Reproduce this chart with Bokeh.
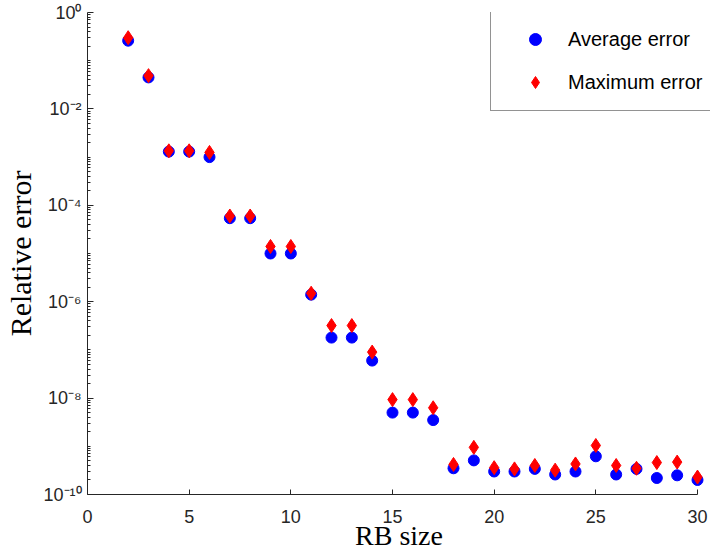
from bokeh.plotting import figure
from bokeh.models import Range1d, FixedTicker, Legend, LegendItem, ColumnDataSource
from bokeh.embed import file_html
from bokeh.resources import INLINE

# ---- data ----
rb_size = list(range(2, 31))
avg_error = [2.6e-1, 4.5e-2, 1.3e-3, 1.3e-3, 1.0e-3, 5.4e-5, 5.4e-5, 1.0e-5, 1.0e-5,
             1.4e-6, 1.8e-7, 1.8e-7, 6.0e-8, 5.0e-9, 5.0e-9, 3.5e-9, 3.5e-10, 5.1e-10,
             3.0e-10, 3.0e-10, 3.4e-10, 2.6e-10, 3.0e-10, 6.2e-10, 2.6e-10, 3.4e-10,
             2.2e-10, 2.5e-10, 2.0e-10]
max_error = [3.0e-1, 4.9e-2, 1.35e-3, 1.35e-3, 1.25e-3, 6.0e-5, 6.0e-5, 1.4e-5, 1.4e-5,
             1.5e-6, 3.2e-7, 3.2e-7, 9.0e-8, 9.3e-9, 9.3e-9, 6.3e-9, 4.2e-10, 9.5e-10,
             3.6e-10, 3.4e-10, 4.0e-10, 3.2e-10, 4.3e-10, 1.04e-9, 4.0e-10, 3.5e-10,
             4.6e-10, 4.7e-10, 2.3e-10]
x_ticks = [0, 5, 10, 15, 20, 25, 30]
y_ticks = [1e-10, 1e-8, 1e-6, 1e-4, 1e-2, 1e0]
y_tick_labels = ["10⁻¹⁰", "10⁻⁸", "10⁻⁶", "10⁻⁴", "10⁻²", "10⁰"]
series_names = ["Average error", "Maximum error"]
x_title = "RB size"
y_title = "Relative error"

AX = "#262626"

# frame spans to the right edge so the legend is not clipped; axis line bounded to 0..30
FRAME_L, AXIS_R, FIG_W = 87, 697, 710
x_end = x_ticks[-1] * (FIG_W - FRAME_L) / (AXIS_R - FRAME_L)

p = figure(width=FIG_W, height=554, output_backend="svg", toolbar_location=None,
           y_axis_type="log",
           x_range=Range1d(0, x_end), y_range=Range1d(1e-10, 1),
           min_border_left=FRAME_L, min_border_right=0, min_border_top=12, min_border_bottom=60)
p.outline_line_color = None
p.xgrid.visible = False
p.ygrid.visible = False
p.background_fill_color = "white"

src = ColumnDataSource(dict(x=rb_size, avg=avg_error, mx=max_error))
r1 = p.scatter("x", "avg", source=src, marker="circle", size=11,
               fill_color="#0000ff", line_color="#0000ff")
r2 = p.scatter("x", "mx", source=src, marker="diamond", size=14,
               fill_color="#ff0000", line_color="#ff0000")

# x axis
xa = p.xaxis[0]
xa.bounds = (x_ticks[0], x_ticks[-1])
xa.ticker = FixedTicker(ticks=x_ticks, minor_ticks=[])
xa.major_tick_in = 5
xa.major_tick_out = 0
xa.minor_tick_in = 0
xa.minor_tick_out = 0
xa.axis_line_color = AX
xa.major_tick_line_color = AX
xa.major_label_text_color = AX
xa.major_label_text_font = "Liberation Sans"
xa.major_label_text_font_size = "18px"
xa.major_label_standoff = 15
xa.axis_label = x_title
xa.axis_label_text_font = "Liberation Serif"
xa.axis_label_text_font_style = "normal"
xa.axis_label_text_font_size = "28px"
xa.axis_label_text_color = "black"
xa.axis_label_standoff = -6

# y axis
minor = []
for e in range(-10, 0):
    for m in range(1, 10):
        v = m * 10.0 ** e
        if m == 1 and e % 2 == 0:
            continue
        minor.append(v)
ya = p.yaxis[0]
ya.ticker = FixedTicker(ticks=y_ticks, minor_ticks=minor)
ya.major_label_overrides = dict(zip(y_ticks, y_tick_labels))
ya.major_tick_in = 6
ya.major_tick_out = 0
ya.minor_tick_in = 3
ya.minor_tick_out = 0
ya.axis_line_color = AX
ya.major_tick_line_color = AX
ya.minor_tick_line_color = AX
ya.major_label_text_color = AX
ya.major_label_text_font = "Liberation Sans"
ya.major_label_text_font_size = "18px"
ya.major_label_standoff = 6
ya.axis_label = y_title
ya.axis_label_text_font = "Liberation Serif"
ya.axis_label_text_font_style = "normal"
ya.axis_label_text_font_size = "30px"
ya.axis_label_text_color = "black"
ya.axis_label_standoff = 3

legend = Legend(items=[LegendItem(label=series_names[0], renderers=[r1]),
                       LegendItem(label=series_names[1], renderers=[r2])],
                location=(403, 383), orientation="vertical",
                padding=13, spacing=13, margin=0,
                glyph_width=62, glyph_height=30, label_height=30,
                label_standoff=2,
                label_text_font="Liberation Sans", label_text_font_size="20px",
                label_text_color="black",
                border_line_color=AX, border_line_width=1,
                background_fill_color="white", background_fill_alpha=1)
p.add_layout(legend, "center")

open("out.html", "w").write(file_html(p, INLINE))
